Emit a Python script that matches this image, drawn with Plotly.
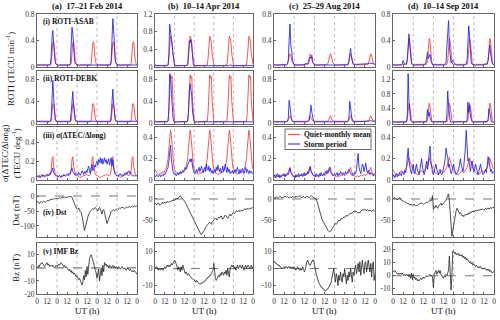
import plotly.graph_objects as go

# ---------------- data (hourly, UT hour 0..120 of each 5-day interval) ----------------
HOURS = list(range(121))
DAY_BOUNDS = [24, 48, 72, 96]
XTICK_VALS = [0, 12, 24, 36, 48, 60, 72, 84, 96, 108, 120]
XTICK_TEXT = ['0', '12', '0', '12', '0', '12', '0', '12', '0', '12', '0']

COL_TITLES = ['(a)  17–21 Feb 2014', '(b)  10–14 Apr 2014', '(c)  25–29 Aug 2014', '(d)  10–14 Sep 2014']
PANEL_LABELS = ['(i) ROTI-ASAB', '(ii) ROTI-DEBK', '(iii) <i>σ</i>(ΔTEC/Δlong)', '(iv) Dst', '(v) IMF Bz']
LEGEND_NAMES = ['Quiet-monthly mean', 'Storm period']

# quiet-monthly mean diurnal profiles (same curve each day, 24 hourly values)
asab_quiet_a = [.03,.03,.03,.03,.03,.03,.03,.03,.03,.03,.03,.03, .03,.03,.03,.03,.03,.05,.20,.37,.38,.22,.10,.05]
debk_quiet_a = [.04,.03,.03,.03,.03,.03,.03,.03,.03,.03,.03,.03, .03,.03,.03,.03,.03,.05,.20,.36,.35,.20,.08,.05]
sigma_quiet_a = [.05,.04,.04,.03,.03,.03,.04,.04,.05,.05,.05,.06, .06,.05,.05,.05,.06,.10,.22,.25,.15,.08,.06,.05]
asab_quiet_b = [.06,.04,.03,.03,.03,.03,.03,.03,.03,.03,.03,.03, .03,.03,.03,.03,.04,.20,.60,.70,.65,.55,.30,.10]
debk_quiet_b = [.05,.03,.03,.03,.03,.03,.03,.03,.03,.03,.03,.03, .03,.03,.03,.03,.04,.20,.70,.88,.82,.85,.40,.10]
sigma_quiet_b = [.10,.08,.07,.06,.06,.05,.06,.07,.06,.07,.08,.07, .08,.10,.12,.15,.20,.30,.38,.47,.42,.30,.20,.14]
asab_quiet_c = [.04,.03,.03,.03,.03,.03,.03,.03,.03,.03,.03,.03, .03,.03,.03,.04,.05,.10,.18,.20,.17,.10,.06,.05]
debk_quiet_c = [.04,.03,.03,.03,.03,.03,.03,.03,.03,.03,.03,.03, .03,.03,.03,.03,.04,.07,.12,.14,.10,.07,.05,.04]
sigma_quiet_c = [.04,.03,.03,.04,.03,.03,.04,.04,.05,.04,.05,.05, .04,.05,.05,.06,.06,.08,.10,.12,.08,.06,.05,.04]
asab_quiet_d = [.04,.03,.03,.03,.03,.03,.03,.03,.03,.03,.03,.03, .03,.03,.03,.03,.04,.10,.30,.43,.38,.20,.08,.04]
debk_quiet_d = [.05,.04,.03,.03,.03,.03,.03,.03,.03,.03,.03,.03, .03,.03,.03,.03,.04,.10,.35,.55,.45,.20,.08,.05]
sigma_quiet_d = [.10,.08,.07,.06,.06,.05,.05,.06,.07,.08,.09,.08, .07,.08,.09,.10,.12,.15,.20,.21,.18,.15,.12,.11]

# storm-period series (121 hourly values)
asab_storm_a = [
 .03,.03,.02,.03,.03,.03,.02,.03,.03,.03,.03,.02, .03,.03,.03,.03,.04,.15,.45,.55,.35,.15,.06,.04,
 .03,.03,.02,.03,.03,.03,.03,.02,.03,.03,.03,.03, .02,.03,.03,.03,.05,.35,.60,.50,.25,.10,.05,.04,
 .03,.03,.03,.02,.03,.03,.03,.03,.02,.03,.03,.03, .03,.03,.02,.03,.03,.03,.03,.03,.02,.03,.03,.03,
 .03,.03,.03,.02,.03,.03,.03,.03,.03,.02,.03,.03, .03,.03,.03,.03,.03,.10,.45,.73,.55,.25,.10,.05,
 .04,.03,.03,.03,.02,.03,.03,.03,.03,.02,.03,.03, .03,.03,.03,.02,.03,.03,.03,.03,.03,.02,.03,.03, .03]
debk_storm_a = [
 .04,.04,.03,.04,.04,.03,.04,.04,.03,.04,.04,.03, .04,.04,.03,.04,.04,.10,.50,.78,.45,.15,.06,.04,
 .04,.03,.04,.04,.03,.04,.04,.03,.04,.04,.03,.04, .04,.03,.04,.04,.04,.20,.50,.58,.30,.10,.05,.04,
 .04,.03,.04,.04,.03,.04,.04,.03,.04,.04,.03,.04, .04,.03,.04,.04,.03,.04,.04,.03,.04,.04,.03,.04,
 .04,.03,.04,.04,.03,.04,.04,.03,.04,.04,.03,.04, .04,.03,.04,.04,.04,.15,.50,.62,.35,.12,.05,.04,
 .04,.03,.04,.04,.03,.04,.04,.03,.04,.04,.03,.04, .04,.03,.04,.04,.03,.04,.04,.03,.04,.04,.03,.04, .04]
sigma_storm_a = [
 .03,.04,.03,.05,.03,.04,.06,.04,.05,.03,.04,.05, .04,.06,.05,.07,.06,.08,.11,.13,.08,.06,.05,.04,
 .05,.03,.04,.05,.04,.03,.05,.04,.06,.05,.04,.05, .06,.05,.07,.06,.08,.10,.13,.09,.07,.06,.05,.07,
 .06,.05,.08,.06,.05,.07,.10,.08,.06,.09,.07,.10, .08,.12,.15,.10,.07,.13,.17,.10,.12,.16,.14,.18,
 .20,.16,.22,.19,.24,.18,.23,.17,.21,.24,.19,.22, .17,.21,.23,.16,.20,.24,.15,.22,.12,.08,.06,.05,
 .05,.04,.06,.05,.07,.05,.04,.06,.05,.07,.06,.08, .06,.09,.10,.07,.09,.06,.05,.04,.05,.04,.05,.04, .05]
asab_storm_b = [
 .03,.03,.02,.03,.03,.03,.02,.03,.03,.03,.03,.02, .03,.03,.03,.03,.04,.30,.97,.75,.55,.48,.30,.08,
 .04,.03,.03,.02,.03,.03,.03,.03,.02,.03,.03,.03, .03,.03,.03,.03,.05,.45,.60,.55,.62,.45,.10,.04,
 .03,.02,.03,.03,.03,.02,.03,.03,.03,.02,.03,.03, .03,.02,.03,.03,.03,.02,.03,.03,.03,.02,.03,.03,
 .02,.03,.03,.03,.02,.03,.03,.03,.02,.03,.03,.03, .02,.03,.03,.03,.03,.03,.03,.04,.05,.04,.03,.03,
 .02,.03,.03,.03,.02,.03,.03,.03,.02,.03,.03,.03, .02,.03,.03,.03,.02,.03,.03,.03,.02,.03,.03,.03, .03]
debk_storm_b = [
 .03,.03,.02,.03,.03,.03,.02,.03,.03,.03,.03,.02, .03,.03,.03,.03,.04,.30,.90,.85,.60,.30,.10,.04,
 .03,.03,.02,.03,.03,.03,.02,.03,.03,.03,.03,.02, .03,.03,.03,.03,.04,.20,.60,.72,.60,.50,.20,.05,
 .03,.02,.03,.03,.03,.02,.03,.03,.03,.02,.03,.03, .03,.02,.03,.03,.03,.02,.03,.03,.03,.02,.03,.03,
 .02,.03,.03,.03,.02,.03,.03,.03,.02,.03,.03,.03, .02,.03,.03,.03,.02,.03,.03,.03,.02,.03,.03,.03,
 .02,.03,.03,.03,.02,.03,.03,.03,.02,.03,.03,.03, .02,.03,.03,.03,.02,.03,.03,.03,.02,.03,.03,.03, .03]
sigma_storm_b = [
 .04,.03,.05,.04,.03,.04,.05,.03,.04,.05,.04,.06, .05,.07,.08,.10,.12,.18,.25,.33,.20,.12,.08,.06,
 .05,.06,.04,.05,.07,.05,.06,.08,.06,.07,.09,.08, .10,.12,.10,.12,.14,.15,.18,.20,.17,.20,.12,.08,
 .07,.06,.08,.10,.07,.09,.12,.08,.10,.13,.09,.07, .10,.12,.08,.15,.10,.09,.13,.08,.11,.07,.09,.06,
 .08,.10,.07,.12,.09,.14,.10,.08,.11,.07,.09,.13, .08,.10,.15,.09,.07,.12,.08,.10,.06,.08,.07,.09,
 .06,.08,.10,.07,.09,.12,.08,.06,.10,.07,.09,.11, .08,.06,.09,.12,.07,.10,.08,.06,.09,.07,.08,.06, .07]
asab_storm_c = [
 .03,.03,.03,.02,.03,.03,.03,.03,.03,.02,.03,.03, .03,.03,.03,.03,.04,.10,.40,.65,.32,.26,.10,.04,
 .03,.03,.03,.02,.03,.03,.03,.03,.03,.02,.03,.03, .04,.04,.06,.05,.04,.05,.10,.15,.13,.18,.08,.04,
 .03,.03,.03,.02,.03,.03,.03,.03,.03,.02,.03,.03, .03,.03,.03,.02,.03,.03,.03,.03,.03,.02,.03,.03,
 .03,.03,.03,.02,.03,.03,.03,.03,.03,.02,.03,.03, .03,.03,.03,.03,.03,.08,.20,.28,.15,.06,.04,.03,
 .04,.04,.04,.04,.04,.04,.04,.04,.04,.04,.04,.04, .04,.04,.05,.05,.04,.05,.06,.06,.05,.06,.05,.04, .04]
debk_storm_c = [
 .03,.03,.03,.02,.03,.03,.03,.03,.03,.02,.03,.03, .03,.03,.03,.03,.04,.10,.42,.25,.10,.06,.04,.03,
 .03,.03,.03,.02,.03,.03,.03,.03,.03,.02,.03,.03, .03,.03,.03,.03,.04,.04,.06,.20,.33,.20,.06,.04,
 .03,.03,.03,.02,.03,.03,.03,.03,.03,.02,.03,.03, .03,.03,.03,.02,.03,.03,.03,.03,.03,.02,.03,.03,
 .03,.03,.03,.02,.03,.03,.03,.03,.03,.02,.03,.03, .03,.03,.03,.03,.04,.10,.40,.25,.08,.04,.03,.03,
 .04,.04,.04,.04,.04,.04,.04,.04,.04,.04,.04,.04, .04,.04,.04,.05,.04,.05,.05,.04,.05,.04,.04,.04, .04]
sigma_storm_c = [
 .03,.05,.02,.04,.06,.03,.05,.02,.04,.03,.05,.04, .06,.03,.05,.04,.06,.05,.08,.11,.07,.05,.04,.03,
 .04,.02,.05,.03,.04,.06,.03,.05,.04,.06,.03,.05, .07,.04,.06,.05,.08,.06,.10,.13,.09,.06,.05,.04,
 .05,.03,.06,.04,.05,.03,.06,.04,.07,.05,.04,.06, .05,.08,.06,.09,.07,.10,.12,.08,.06,.05,.04,.05,
 .06,.04,.05,.07,.04,.06,.05,.08,.06,.05,.07,.06, .05,.08,.06,.07,.09,.10,.08,.06,.05,.04,.06,.05,
 .07,.06,.10,.18,.25,.12,.08,.06,.10,.15,.13,.08, .12,.16,.10,.07,.09,.06,.05,.07,.06,.05,.04,.06, .05]
asab_storm_d = [
 .03,.03,.02,.03,.03,.03,.02,.03,.03,.03,.03,.04, .10,.06,.04,.05,.05,.12,.38,.50,.32,.12,.05,.04,
 .03,.03,.02,.03,.03,.03,.02,.03,.03,.03,.03,.03, .03,.04,.04,.06,.15,.22,.13,.15,.19,.10,.04,.03,
 .03,.03,.02,.03,.03,.03,.02,.03,.03,.03,.03,.03, .03,.03,.04,.06,.30,.60,.70,.30,.10,.06,.08,.10,
 .08,.05,.04,.03,.03,.03,.02,.03,.03,.03,.03,.03, .03,.03,.04,.04,.10,.35,.62,.45,.20,.06,.04,.03,
 .03,.03,.02,.03,.03,.03,.02,.03,.03,.03,.03,.03, .04,.04,.05,.04,.05,.10,.25,.33,.20,.08,.05,.04, .03]
debk_storm_d = [
 .04,.04,.03,.04,.04,.03,.04,.04,.03,.04,.04,.03, .04,.04,.03,.04,.05,.20,1.35,.60,.25,.08,.05,.04,
 .04,.04,.03,.04,.04,.03,.04,.04,.03,.04,.04,.03, .04,.04,.04,.05,.10,.38,.20,.30,.15,.05,.04,.04,
 .04,.04,.03,.04,.04,.03,.04,.04,.03,.04,.04,.03, .04,.04,.04,.05,.20,.88,.50,.15,.05,.04,.04,.03,
 .04,.04,.03,.04,.04,.03,.04,.04,.03,.04,.04,.03, .04,.04,.04,.05,.10,.58,.30,.50,.20,.06,.04,.04,
 .04,.04,.03,.04,.04,.03,.04,.04,.03,.04,.04,.03, .04,.04,.04,.05,.05,.10,.40,.30,.10,.05,.04,.04, .04]
sigma_storm_d = [
 .03,.05,.02,.04,.06,.03,.05,.04,.07,.05,.04,.08, .06,.05,.09,.07,.12,.20,.30,.18,.12,.08,.06,.10,
 .15,.08,.06,.12,.15,.09,.06,.05,.10,.14,.20,.12, .07,.05,.08,.12,.18,.10,.15,.25,.32,.18,.10,.07,
 .05,.08,.12,.15,.10,.06,.05,.08,.10,.06,.05,.07, .10,.15,.20,.30,.25,.22,.12,.15,.10,.06,.08,.12,
 .15,.10,.07,.05,.06,.08,.10,.14,.20,.15,.10,.08, .12,.20,.30,.47,.25,.18,.20,.12,.08,.15,.18,.12,
 .08,.10,.15,.12,.06,.05,.08,.12,.15,.10,.07,.05, .06,.08,.10,.07,.15,.22,.18,.12,.08,.10,.06,.08, .07]

# Dst index (nT), hourly
dst_a = [
 -15,-18,-22,-25,-20,-18,-22,-20,-17,-19,-21,-18, -15,-16,-14,-12,-13,-11,-10,-12,-9,-8,-10,-7,
 -8,-10,-7,-6,-8,-5,-6,-4,-5,-3,-6,-4, -2,-3,-1,-2,0,-1,-5,-12,-20,-28,-35,-40,
 -42,-45,-40,-48,-52,-55,-65,-80,-100,-115,-105,-90, -80,-70,-62,-55,-50,-48,-45,-42,-45,-40,-38,-42,
 -45,-50,-42,-38,-45,-55,-60,-48,-45,-55,-65,-80, -92,-85,-75,-65,-58,-52,-50,-48,-45,-50,-47,-44,
 -42,-45,-43,-40,-42,-38,-40,-37,-39,-42,-40,-38, -36,-39,-37,-35,-38,-36,-34,-37,-35,-33,-36,-34, -33]
dst_b = [
 -10,-12,-14,-11,-9,-12,-15,-13,-10,-8,-11,-9, -7,-10,-8,-6,-9,-7,-5,-6,-4,-3,-5,-2,
 -3,-1,0,2,1,4,6,8,5,3,1,-2, -5,-8,-12,-15,-18,-22,-26,-30,-35,-40,-45,-48,
 -52,-55,-60,-64,-68,-72,-76,-80,-83,-84,-82,-78, -75,-70,-68,-64,-62,-60,-58,-55,-57,-60,-55,-52,
 -50,-48,-45,-47,-50,-46,-43,-45,-42,-40,-44,-48, -45,-42,-38,-40,-43,-46,-42,-38,-36,-40,-37,-34,
 -32,-35,-33,-30,-28,-31,-29,-27,-30,-28,-26,-29, -27,-25,-23,-26,-24,-22,-25,-23,-21,-24,-22,-20, -22]
dst_c = [
 3,2,4,5,3,2,4,6,5,3,4,2, 5,7,5,4,6,3,2,4,5,3,6,4,
 5,3,7,5,4,6,8,5,4,3,5,6, 4,2,5,7,6,4,3,5,8,6,5,4,
 2,1,0,-5,-12,-22,-32,-38,-42,-48,-52,-55, -58,-62,-66,-70,-74,-76,-78,-77,-74,-70,-66,-62,
 -60,-58,-60,-57,-54,-50,-52,-48,-46,-48,-44,-42, -44,-40,-38,-41,-39,-36,-34,-33,-35,-31,-30,-29,
 -31,-28,-30,-32,-34,-31,-33,-29,-28,-26,-25,-27, -24,-26,-28,-25,-27,-29,-26,-28,-30,-27,-25,-28, -30]
dst_d = [
 0,2,3,1,0,-2,0,2,3,0,-3,-5, -4,-6,-8,-7,-10,-12,-10,-13,-15,-12,-14,-15,
 -13,-12,-15,-17,-15,-16,-14,-12,-10,-12,-9,-11, -13,-11,-9,-10,-8,-9,-6,-5,-3,-5,-2,8,
 -25,-18,-20,-15,-18,-22,-18,-15,-12,-10,-15,-13, -10,-8,-5,-3,3,8,12,-5,-40,-70,-88,-75,
 -60,-45,-35,-28,-22,-25,-30,-35,-32,-36,-40,-38, -42,-40,-36,-38,-35,-37,-33,-35,-30,-32,-29,-31,
 -28,-30,-27,-29,-26,-28,-25,-27,-24,-26,-23,-25, -27,-24,-22,-25,-23,-21,-24,-22,-20,-23,-21,-19, -22]

# IMF Bz (nT), hourly
bz_a = [
 1,0,2,1,3,3,4,3,2,1,2,3, 4,2,3,1,2,2,1,2,1,0,1,2,
 1,2,3,2,3,4,3,2,1,2,0,1, 0,-1,-2,-1,-3,-2,-4,-3,-5,-4,-6,-7,
 -6,-8,-9,-8,-10,-12,-13,-11,-6,-9,-2,-7, 1,-5,4,7,9,10,8,6,3,1,-2,-4,
 -8,-3,-1,-10,-4,0,-6,2,-3,4,2,3, 1,2,0,2,1,0,1,2,0,1,0,1,
 0,-1,1,0,-1,0,1,0,-1,0,-1,-2, -1,0,-1,-2,-1,-2,-3,-2,-3,-2,-3,-4, -5]
bz_b = [
 1,0,1,0,-1,0,-1,-1,0,0,-1,0, 1,0,1,2,1,2,1,2,3,2,3,4,
 5,4,3,1,-1,1,0,-2,1,-1,2,0, -2,-3,-2,-3,-4,-3,-4,-5,-5,-6,-6,-7,
 -7,-7,-8,-7,-8,-8,-9,-9,-9,-9,-8,-8, -8,-7,-7,-6,-6,-5,-5,-4,-4,-3,-2,-1,
 3,-3,-6,-7,-6,-5,-4,-5,-3,-4,-2,-3, -4,-2,-3,-1,-4,0,-2,-5,0,1,2,1,
 2,0,1,-1,1,2,0,1,2,1,0,2, 1,-1,1,2,0,1,2,1,0,1,2,0, 1]
bz_c = [
 4,4,3,3,2,2,2,1,1,0,0,0, 1,0,1,1,0,1,1,0,1,0,1,0,
 1,0,-1,0,1,0,-1,-1,0,-1,1,0, -2,-1,2,4,5,3,2,2,3,4,5,5,
 3,0,-3,-5,-6,-8,-9,-10,-11,-11,-12,-12, -13,-13,-13,-12,-12,-11,-10,-9,-8,-5,-2,0,
 -4,-8,-3,-5,-10,-4,-7,-2,-6,-8,-3,-5, 0,-6,-9,-4,-7,-2,-5,0,-3,-8,-2,-4,
 0,2,-3,1,3,-2,4,-4,2,5,0,-3, 3,4,-2,2,5,1,-2,3,-5,2,4,-7, -3]
bz_d = [
 4,3,4,3,2,2,1,2,1,2,1,2, 1,0,1,0,1,0,1,-1,1,-2,2,-3,
 1,-2,-1,-3,-2,-4,-3,-4,-3,-2,-3,-2, -1,-2,-1,-1,0,-1,0,0,1,0,0,-1,
 -9,1,2,4,1,3,4,2,4,1,0,-1, -2,0,-1,1,0,2,4,15,2,-11,0,19,
 18,17,18,16,17,16,17,15,16,15,16,14, 15,13,14,12,13,12,11,10,11,9,10,8,
 9,8,7,8,7,6,7,6,7,6,5,6, 5,6,5,4,5,4,5,3,4,3,2,3, 3]

QUIET = [[asab_quiet_a, asab_quiet_b, asab_quiet_c, asab_quiet_d],
         [debk_quiet_a, debk_quiet_b, debk_quiet_c, debk_quiet_d],
         [sigma_quiet_a, sigma_quiet_b, sigma_quiet_c, sigma_quiet_d]]
STORM = [[asab_storm_a, asab_storm_b, asab_storm_c, asab_storm_d],
         [debk_storm_a, debk_storm_b, debk_storm_c, debk_storm_d],
         [sigma_storm_a, sigma_storm_b, sigma_storm_c, sigma_storm_d]]
INDEX = [[dst_a, dst_b, dst_c, dst_d], [bz_a, bz_b, bz_c, bz_d]]

Y_RANGES = [[[0, 0.8], [0, 1.2], [0, 0.8], [0, 0.8]],
            [[0, 0.95], [0, 0.95], [0, 0.95], [0, 1.42]],
            [[0, 0.57], [0, 0.5], [0, 0.5], [0, 0.5]],
            [[-137, 37], [-90, 33], [-90, 33], [-90, 33]],
            [[-20, 19], [-15, 15], [-15, 15], [-14, 25]]]
Y_TICKS = [[[0, 0.4, 0.8], [0, 0.4, 0.8, 1.2], [0, 0.4, 0.8], [0, 0.4, 0.8]],
           [[0, 0.4, 0.8], [0, 0.4, 0.8], [0, 0.4, 0.8], [0, 0.4, 0.8, 1.2]],
           [[0, 0.2, 0.4]] * 4,
           [[0, -50, -100], [0, -50], [0, -50], [0, -50]],
           [[-20, -10, 0, 10], [-10, 0, 10], [-10, 0, 10], [-10, 0, 10, 20]]]


def one_month_mean_days(profile):
    # monthly-mean diurnal curve shown for each of the 5 days (+ closing hour 120)
    return profile * 5 + profile[:1]


# ---------------- layout geometry (pixels) ----------------
W, H = 500, 320
COL_PX = [(37, 137), (155, 253), (274, 375), (393, 494)]
ROW_PX = [(14, 67), (71, 123.5), (127, 180), (185, 237), (243, 294)]
FONT = 'Liberation Serif'
RED = 'rgba(255,55,55,0.85)'
BLUE = 'rgba(30,30,255,0.85)'


def px(x):
    return x / W


def py(y):
    return 1 - y / H


def fmt(v):
    return '%g' % v


fig = go.Figure()
shapes = []
layout = {}
for r in range(5):
    for c in range(4):
        idx = r * 4 + c + 1
        sfx = '' if idx == 1 else str(idx)
        xa, ya = 'x' + sfx, 'y' + sfx
        if r < 3:
            fig.add_trace(go.Scatter(x=HOURS, y=one_month_mean_days(QUIET[r][c]), mode='lines',
                                     line=dict(color=RED, width=1), xaxis=xa, yaxis=ya,
                                     name=LEGEND_NAMES[0], showlegend=False))
            fig.add_trace(go.Scatter(x=HOURS, y=STORM[r][c], mode='lines',
                                     line=dict(color=BLUE, width=1), xaxis=xa, yaxis=ya,
                                     name=LEGEND_NAMES[1], showlegend=False))
        else:
            fig.add_trace(go.Scatter(x=HOURS, y=INDEX[r - 3][c], mode='lines',
                                     line=dict(color='#222', width=0.8), xaxis=xa, yaxis=ya,
                                     showlegend=False))
            shapes.append(dict(type='line', xref=xa + ' domain', yref=ya, x0=0, x1=1, y0=0, y1=0,
                               line=dict(color='#777', width=1.1, dash='dash'), layer='below'))
        for d in DAY_BOUNDS:
            shapes.append(dict(type='line', xref=xa, yref=ya + ' domain', x0=d, x1=d, y0=0, y1=1,
                               line=dict(color='#aaa', width=0.8, dash='dot'), layer='below'))
        x0, x1 = COL_PX[c]
        t0, t1 = ROW_PX[r]
        layout['xaxis' + sfx] = dict(domain=[px(x0), px(x1)], anchor=ya, range=[0, 120],
                                     tickvals=XTICK_VALS, ticktext=XTICK_TEXT, automargin=False,
                                     showticklabels=(r == 4), ticks='inside', ticklen=2,
                                     tickcolor='#666', showgrid=False, zeroline=False,
                                     showline=True, mirror=True, linecolor='#666', linewidth=1,
                                     tickfont=dict(family=FONT, size=7.5, color='#333'))
        tv = Y_TICKS[r][c]
        layout['yaxis' + sfx] = dict(domain=[py(t1), py(t0)], anchor=xa, range=Y_RANGES[r][c],
                                     tickvals=tv, ticktext=[fmt(v) for v in tv], automargin=False,
                                     ticks='inside', ticklen=2, tickcolor='#666',
                                     showgrid=False, zeroline=False, showline=True, mirror=True,
                                     linecolor='#666', linewidth=1,
                                     tickfont=dict(family=FONT, size=7.5, color='#333'))

ann = []


def text_at(text, x, y, size, xanchor='center', angle=0):
    ann.append(dict(text=text, x=px(x), y=py(y), xref='paper', yref='paper', xanchor=xanchor,
                    yanchor='middle', textangle=angle, showarrow=False,
                    font=dict(family=FONT, size=size, color='#111')))


for c in range(4):
    cx = (COL_PX[c][0] + COL_PX[c][1]) / 2
    text_at('<b>' + COL_TITLES[c] + '</b>', cx, 6.5, 8.5)
    text_at('UT (h)', cx, 311, 9)
for r, ly in enumerate([21, 79, 135, 212, 251]):
    text_at('<b>' + PANEL_LABELS[r] + '</b>', 41, ly, 7.5, xanchor='left')
text_at('ROTI (TECU min<sup>-1</sup>)', 10, 69, 9, angle=-90)
text_at('<i>σ</i>(ΔTEC/Δlong)<br>(TECU deg<sup>-1</sup>)', 11, 153, 9, angle=-90)
text_at('Dst (nT)', 16, 211, 9, angle=-90)
text_at('Bz (nT)', 16, 268, 9, angle=-90)

shapes.append(dict(type='rect', xref='paper', yref='paper', x0=px(285), x1=px(371), y0=py(149.5), y1=py(129),
                   line=dict(color='#444', width=0.8), fillcolor='white', layer='above'))
for name, col, ly in [(LEGEND_NAMES[0], RED, 134.5), (LEGEND_NAMES[1], BLUE, 144)]:
    shapes.append(dict(type='line', xref='paper', yref='paper', x0=px(288), x1=px(300), y0=py(ly), y1=py(ly),
                       line=dict(color=col, width=1.2), layer='above'))
    text_at('<b>' + name + '</b>', 302, ly, 7.5, xanchor='left')

fig.update_layout(width=W, height=H, margin=dict(l=0, r=0, t=0, b=0, autoexpand=False), autosize=False,
                  paper_bgcolor='white', plot_bgcolor='white', showlegend=False,
                  shapes=shapes, annotations=ann, **layout)
fig.write_html('out.html', config={'displayModeBar': False},
               post_script="document.body.style.margin='0';document.body.style.overflow='hidden';")
